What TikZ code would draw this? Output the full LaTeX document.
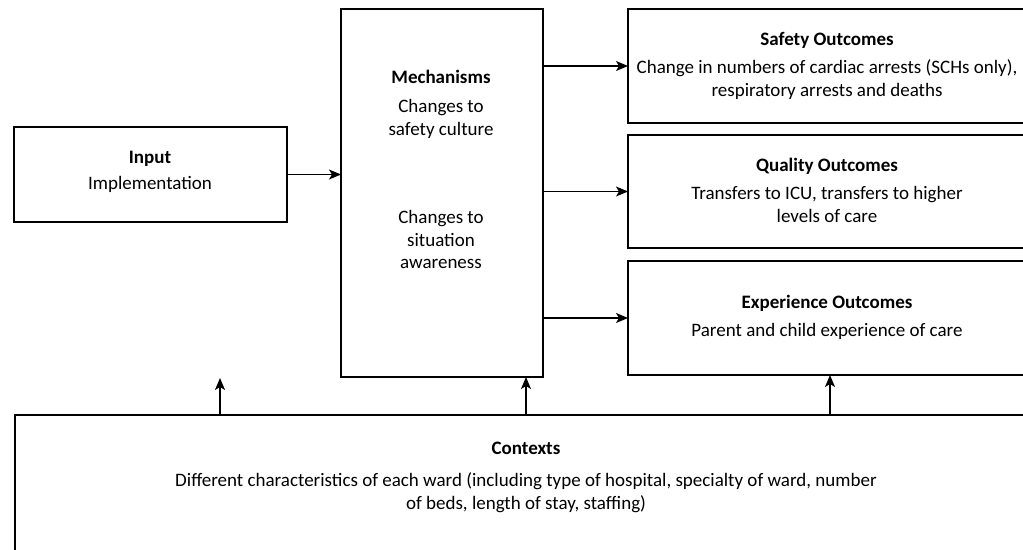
\documentclass[tikz,border=0pt]{standalone}
\usepackage{fontspec}
\setmainfont{Carlito}
\usetikzlibrary{arrows.meta}
\begin{document}
\begin{tikzpicture}[x=1pt,y=-1pt,
  box/.style={draw=black,line width=1.4pt,inner sep=0pt,outer sep=0pt,anchor=north west},
  txt/.style={font=\fontsize{19}{23}\selectfont,inner sep=0pt,anchor=base},
  hd/.style={txt,font=\fontsize{19}{23}\selectfont\bfseries},
  arr/.style={line width=1.4pt,-{Stealth[length=12pt,width=10pt,inset=3pt]}}]
\useasboundingbox (0,0) rectangle (1023,549);
\clip (0,0) rectangle (1023,549);
% boxes
\node[box,minimum width=273pt,minimum height=95pt] (input) at (14,127) {};
\node[box,minimum width=202pt,minimum height=368pt] (mech) at (341,9) {};
\node[box,minimum width=404pt,minimum height=114pt] (safety) at (628,9) {};
\node[box,minimum width=404pt,minimum height=113pt] (quality) at (628,135) {};
\node[box,minimum width=404pt,minimum height=114pt] (exper) at (628,261) {};
\node[box,minimum width=1021pt,minimum height=160pt] (ctx) at (15,415) {};
% texts
\node[hd]  (inH) at (150,163) {Input};
\node[txt] (inB) at (150,189) {Implementation};
\node[hd]  (mH) at (441,83) {Mechanisms};
\node[txt] (m1) at (441,112) {Changes to};
\node[txt] (m2) at (441,135) {safety culture};
\node[txt] (m3) at (441,223) {Changes to};
\node[txt] (m4) at (441,246) {situation};
\node[txt] (m5) at (441,268) {awareness};
\node[hd]  (sH) at (827,45) {Safety Outcomes};
\node[txt] (s1) at (827,73) {Change in numbers of cardiac arrests (SCHs only),};
\node[txt] (s2) at (827,96) {respiratory arrests and deaths};
\node[hd]  (qH) at (827,171) {Quality Outcomes};
\node[txt] (q1) at (827,199) {Transfers to ICU, transfers to higher};
\node[txt] (q2) at (827,222) {levels of care};
\node[hd]  (eH) at (827,308) {Experience Outcomes};
\node[txt] (e1) at (827,336) {Parent and child experience of care};
\node[hd]  (cH) at (526,454) {Contexts};
\node[txt] (c1) at (526,486) {Different characteristics of each ward (including type of hospital, specialty of ward, number};
\node[txt] (c2) at (526,509) {of beds, length of stay, staffing)};
% connectors
\draw[arr] (input.east) -- (input.east -| mech.west);
\draw[arr] (mech.east |- safety.west) -- (safety.west);
\draw[arr] (mech.east |- quality.west) -- (quality.west);
\draw[arr] (mech.east |- exper.west) -- (exper.west);
\coordinate (freeTip) at (220,378);
\coordinate (mx) at (526,0);
\draw[arr] (ctx.north -| freeTip) -- (freeTip);
\draw[arr] (ctx.north -| mx) -- (mech.south -| mx);
\draw[arr] (ctx.north -| exper.south) -- (exper.south);
\end{tikzpicture}
\end{document}
